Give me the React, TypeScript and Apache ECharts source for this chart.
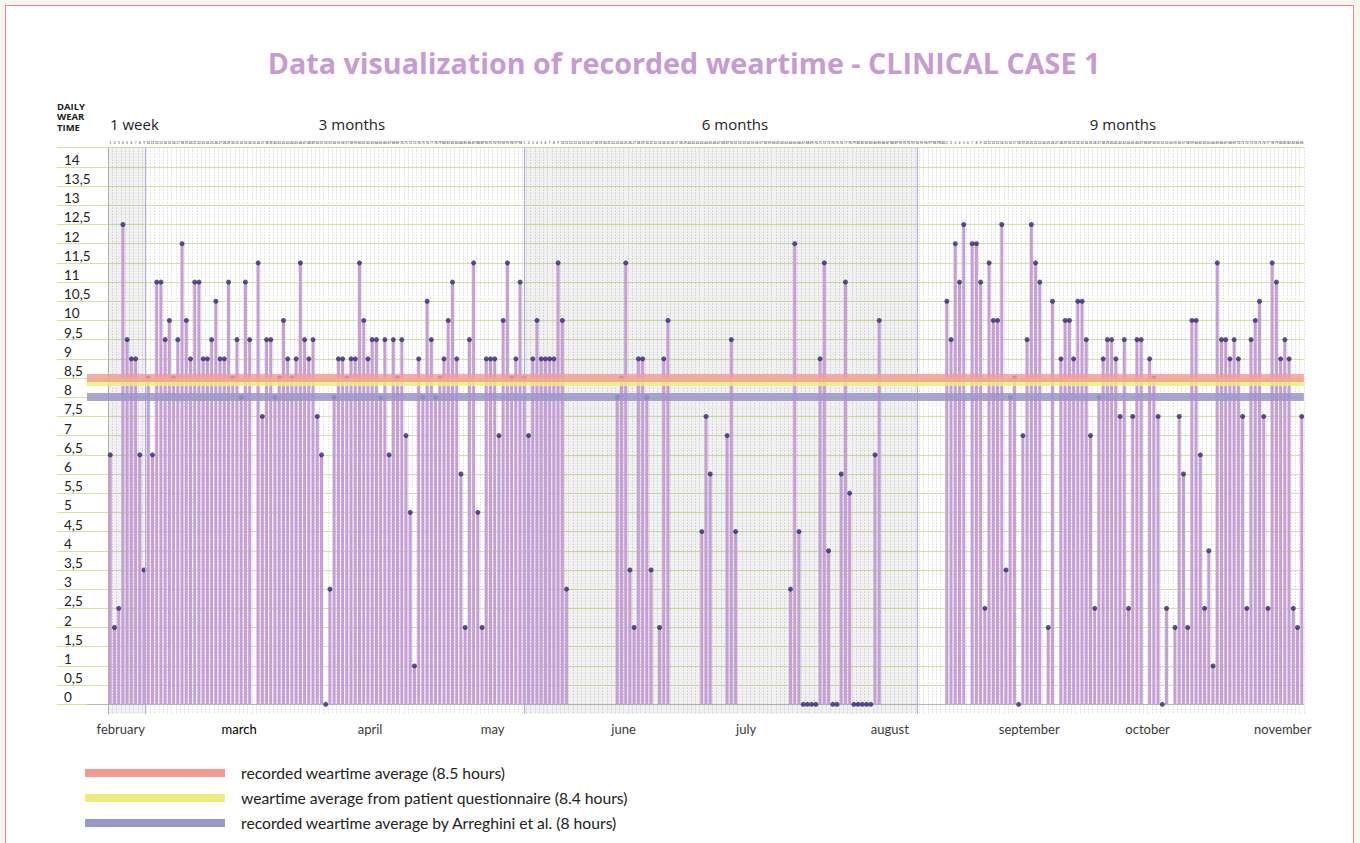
import React, { useEffect, useRef } from "react";
import * as echarts from "echarts";

// Daily wear time (hours) per recorded day; null = no record
const week1Hours = [6.5, 2, 2.5, 12.5, 9.5, 9, 9, 6.5];
const months3Hours = [
  3.5, 8.5, 6.5, 11, 11, 9.5, 10, 8.5, 9.5, 12,
  10, 9, 11, 11, 9, 9, 9.5, 10.5, 9, 9,
  11, 8.5, 9.5, 8, 11, 9.5, null, 11.5, 7.5, 9.5,
  9.5, 8, 8.5, 10, 9, 8.5, 9, 11.5, 9.5, 9,
  9.5, 7.5, 6.5, 0, 3, 8, 9, 9, 8.5, 9,
  9, 11.5, 10, 9, 9.5, 9.5, 8, 9.5, 6.5, 9.5,
  8.5, 9.5, 7, 5, 1, 9, 8, 10.5, 9.5, 8,
  8.5, 9, 10, 11, 9, 6, 2, 9.5, 11.5, 5,
  2, 9, 9, 9, 7, 10, 11.5, 8.5, 9, 11,
];
const months6Hours = [
  8.5, 7, 9, 10, 9, 9, 9, 9, 11.5, 10,
  3, null, null, null, null, null, null, null, null, null,
  null, null, 8, 8.5, 11.5, 3.5, 2, 9, 9, 8,
  3.5, null, 2, 9, 10, null, null, null, null, null,
  null, null, 4.5, 7.5, 6, null, null, null, 7, 9.5,
  4.5, null, null, null, null, null, null, null, null, null,
  null, null, null, 3, 12, 4.5, 0, 0, 0, 0,
  9, 11.5, 4, 0, 0, 6, 11, 5.5, 0, 0,
  0, 0, 0, 6.5, 10, null, null, null, null, null,
  null, null, null, null, null, null, null, null, null, null,
];
const months9Hours = [
  10.5, 9.5, 12, 11, 12.5, null, 12, 12, 11, 2.5,
  11.5, 10, 10, 12.5, 3.5, 8, 8.5, 0, 7, 9.5,
  12.5, 11.5, 11, null, 2, 10.5, null, 9, 10, 10,
  9, 10.5, 10.5, 9.5, 7, 2.5, 8, 9, 9.5, 9.5,
  9, 7.5, 9.5, 2.5, 7.5, 9.5, 9.5, null, 9, 8.5,
  7.5, 0, 2.5, null, 2, 7.5, 6, 2, 10, 10,
  6.5, 2.5, 4, 1, 11.5, 9.5, 9.5, 9, 9.5, 9,
  7.5, 2.5, 9.5, 10, 10.5, 7.5, 2.5, 11.5, 11, 9,
  9.5, 9, 2.5, 2, 7.5,
];

// Reference averages (hours)
const recordedAverage = 8.5;
const questionnaireAverage = 8.4;
const arreghiniAverage = 8;

// Month tick labels and the day they are attached to
const monthNames = ["february", "march", "april", "may", "june", "july", "august", "september", "october", "november"];
const monthTickDays = [3, 31, 62, 91, 122, 151, 185, 218, 246, 278];

// Periods: label, shaded span (in days)
const periodNames = ["1 week", "3 months", "6 months", "9 months"];
const periodBoundaries = [8.7, 98.5, 191.5];
const shadedSpans = [[0, 8.7], [98.5, 191.5]];
const numberingStarts = [0, 98, 198];

const yTicks = [0, 14.5];

const legendItems = [
  { label: "recorded weartime average (8.5 hours)", color: "#f39b95" },
  { label: "weartime average from patient questionnaire (8.4 hours)", color: "#eeec7c" },
  { label: "recorded weartime average by Arreghini et al. (8 hours)", color: "#9a98c9" },
];

export default function App() {
  const ref = useRef<HTMLDivElement>(null);

  useEffect(() => {
    if (!ref.current) return;
    const chart = echarts.init(ref.current, undefined, { renderer: "svg" });

    const allHours: (number | null)[] = [...week1Hours, ...months3Hours, ...months6Hours, ...months9Hours];
    const dayCount = allHours.length;
    const points: [number, number][] = [];
    allHours.forEach((v, i) => {
      if (v !== null && v !== undefined) points.push([i + 0.5, v]);
    });
    const dayNumbers = allHours.map((_, i) => {
      let s = 0;
      numberingStarts.forEach((st) => { if (i >= st) s = st; });
      return String(i - s + 1);
    });

    const monthMap: Record<number, string> = {};
    monthTickDays.forEach((d, i) => (monthMap[d] = monthNames[i]));

    const unit = 4.225;
    const top = 147.7;
    const leftData = 108.2;
    const plotW = dayCount * unit;

    const labelFont = "Lato";

    const option: any = {
      animation: false,
      backgroundColor: "transparent",
      grid: [
        { left: 57, top, width: leftData + plotW - 57, height: 556.6 },
        { left: 87, top, width: leftData + plotW - 87, height: 566.2 },
        { left: leftData, top, width: plotW, height: 566.2 },
      ],
      xAxis: [
        { gridIndex: 0, type: "value", min: 0, max: 1, show: false },
        {
          gridIndex: 1,
          type: "value",
          min: -5,
          max: dayCount,
          interval: 1,
          axisLine: { show: true, lineStyle: { color: "#b8b8b8", width: 1 } },
          axisTick: { show: false },
          splitLine: { show: false },
          axisLabel: {
            show: true,
            margin: 9,
            fontSize: 13,
            fontFamily: labelFont,
            color: "#3a3a3a",
            formatter: (v: number) => {
              const name = monthMap[Math.round(v)];
              if (!name || Math.abs(v - Math.round(v)) > 1e-6) return "";
              return name === "march" ? "{b|march}" : name;
            },
            rich: { b: { fontSize: 13, fontFamily: labelFont, color: "#000" } },
          },
        },
        {
          gridIndex: 2,
          type: "category",
          position: "top",
          data: dayNumbers,
          boundaryGap: true,
          axisLine: { show: false },
          axisTick: { show: false },
          axisLabel: { interval: 0, fontSize: 3, margin: 3, color: "#222", fontFamily: "Lato" },
          splitLine: { show: true, interval: 0, lineStyle: { color: "#cccccc", width: 1, type: [1, 2] } },
        },
      ],
      yAxis: [
        {
          gridIndex: 0,
          type: "value",
          min: yTicks[0],
          max: yTicks[1],
          interval: 0.5,
          axisLine: { show: false },
          axisTick: { show: false },
          splitLine: { show: true, lineStyle: { color: "#d2e59c", width: 1 } },
          axisLabel: {
            inside: true,
            margin: 7,
            align: "left",
            verticalAlign: "bottom",
            fontSize: 13.5,
            fontFamily: labelFont,
            color: "#222",
            formatter: (v: number) => (v > 14.01 ? "" : String(v).replace(".", ",")),
          },
        },
        {
          gridIndex: 1,
          type: "value",
          min: -0.25,
          max: 14.5,
          axisLine: { show: true, lineStyle: { color: "#b8b8b8", width: 1 } },
          axisTick: { show: false },
          axisLabel: { show: false },
          splitLine: { show: false },
        },
        { gridIndex: 2, type: "value", min: 0, max: 1, show: false },
      ],
      series: [
        {
          type: "line",
          xAxisIndex: 1,
          yAxisIndex: 1,
          data: [],
          z: 1,
          markArea: {
            silent: true,
            itemStyle: { color: "rgba(0,0,0,0.055)" },
            data: shadedSpans.map((s) => [{ xAxis: s[0] }, { xAxis: s[1] }]),
          },
          markLine: {
            silent: true,
            symbol: ["none", "none"],
            label: { show: false },
            lineStyle: { color: "#b0aadd", width: 1, type: "solid" },
            data: periodBoundaries.map((b) => ({ xAxis: b })),
          },
        },
        {
          type: "bar",
          xAxisIndex: 1,
          yAxisIndex: 1,
          data: points,
          barWidth: 3,
          itemStyle: { color: "#c59fd5" },
          z: 2,
        },
        {
          type: "scatter",
          xAxisIndex: 1,
          yAxisIndex: 1,
          data: points,
          symbolSize: 5,
          itemStyle: { color: "#2d2878" },
          z: 3,
        },
        {
          type: "line",
          xAxisIndex: 1,
          yAxisIndex: 1,
          data: [],
          z: 4,
          markLine: {
            silent: true,
            symbol: ["none", "none"],
            label: { show: false },
            data: [
              { yAxis: questionnaireAverage, lineStyle: { color: legendItems[1].color, width: 8, opacity: 0.85, type: "solid" } },
              { yAxis: recordedAverage, lineStyle: { color: legendItems[0].color, width: 8, opacity: 0.8, type: "solid" } },
              { yAxis: arreghiniAverage, lineStyle: { color: legendItems[2].color, width: 8, opacity: 0.85, type: "solid" } },
            ],
          },
        },
      ],
      graphic: [
        {
          type: "text",
          x: 684,
          y: 62,
          style: {
            text: "Data visualization of recorded weartime - CLINICAL CASE 1",
            font: 'bold 28.7px "Open Sans"',
            fill: "#c79bd2",
            textAlign: "center",
            textVerticalAlign: "middle",
          },
        },
        {
          type: "text",
          x: 57,
          y: 101,
          style: {
            text: "DAILY\nWEAR\nTIME",
            font: 'bold 9.5px "Open Sans"',
            lineHeight: 10.5,
            fill: "#222",
          },
        },
        {
          type: "text",
          x: 110,
          y: 124,
          style: { text: periodNames[0], font: '15px "Open Sans"', fill: "#222", textVerticalAlign: "middle" },
        },
        {
          type: "text",
          x: 352,
          y: 124,
          style: { text: periodNames[1], font: '15px "Open Sans"', fill: "#222", textAlign: "center", textVerticalAlign: "middle" },
        },
        {
          type: "text",
          x: 735,
          y: 124,
          style: { text: periodNames[2], font: '15px "Open Sans"', fill: "#222", textAlign: "center", textVerticalAlign: "middle" },
        },
        {
          type: "text",
          x: 1123,
          y: 124,
          style: { text: periodNames[3], font: '15px "Open Sans"', fill: "#222", textAlign: "center", textVerticalAlign: "middle" },
        },
        ...legendItems.flatMap((it, i) => [
          {
            type: "rect",
            shape: { x: 85, y: 769 + i * 25, width: 140, height: 8 },
            style: { fill: it.color },
          },
          {
            type: "text",
            x: 241,
            y: 773 + i * 25,
            style: { text: it.label, font: '15.7px "Lato"', fill: "#222", textVerticalAlign: "middle" },
          },
        ]),
      ],
    };

    chart.setOption(option);
    return () => chart.dispose();
  }, []);

  return (
    <div style={{ position: "fixed", left: 0, top: 0, width: 1360, height: 843, background: "#f9f5ef", overflow: "hidden" }}>
      <div
        style={{
          position: "absolute",
          left: 5,
          top: 5,
          width: 1349,
          height: 900,
          background: "#ffffff",
          border: "1px solid #e58a88",
          boxSizing: "border-box",
        }}
      />
      <div ref={ref} style={{ position: "absolute", left: 0, top: 0, width: 1360, height: 843 }} />
    </div>
  );
}
